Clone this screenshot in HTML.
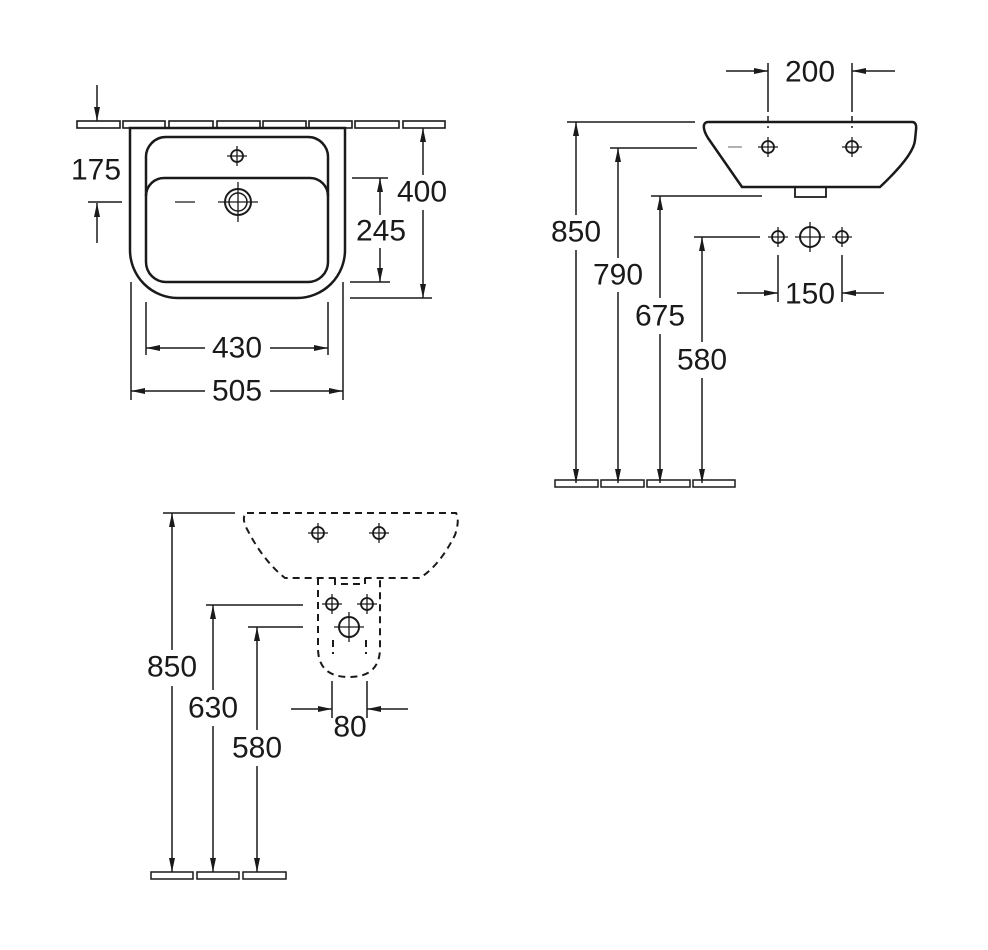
<!DOCTYPE html>
<html><head><meta charset="utf-8"><style>
html,body{margin:0;padding:0;background:#fff}
svg{display:block}
text{font-family:"Liberation Sans",sans-serif;font-size:30px;fill:#1a1a1a;text-anchor:middle;dominant-baseline:central}
</style></head><body>
<svg width="988" height="950" viewBox="0 0 988 950" xmlns="http://www.w3.org/2000/svg">
<defs>
<marker id="a" viewBox="0 0 14 6" refX="14" refY="3" markerWidth="14" markerHeight="6" markerUnits="userSpaceOnUse" orient="auto-start-reverse"><path d="M0,0 L14,3 L0,6 Z" fill="#1a1a1a"/></marker>
<g id="hs"><circle r="6" fill="none" stroke="#1a1a1a" stroke-width="1.8"/><path d="M-10,0H10M0,-10V10" stroke="#1a1a1a" stroke-width="1.3"/></g>
<g id="hl"><circle r="10" fill="none" stroke="#1a1a1a" stroke-width="2"/><path d="M-15,0H15M0,-15V15" stroke="#1a1a1a" stroke-width="1.3"/></g>
</defs>
<g stroke="#1a1a1a" fill="none">
<!-- top-left view -->
<g stroke-width="1.6">
<rect x="77" y="121" width="43" height="7"/><rect x="123" y="121" width="42" height="7"/><rect x="169" y="121" width="44" height="7"/><rect x="217" y="121" width="43" height="7"/><rect x="263" y="121" width="43" height="7"/><rect x="309" y="121" width="43" height="7"/><rect x="355" y="121" width="44" height="7"/><rect x="403" y="121" width="42" height="7"/>
</g>
<path d="M130,128V250A48,48 0 0 0 178,298H297A48,48 0 0 0 345,250V128Z" stroke-width="2.5" fill="#fff"/>
<path d="M146,158A20,20 0 0 1 166,137H308A20,20 0 0 1 328,158V262A20,20 0 0 1 308,282H166A20,20 0 0 1 146,262Z" stroke-width="2.5"/>
<path d="M146,196A18,18 0 0 1 164,178H310A18,18 0 0 1 328,196" stroke-width="2.5"/>
<use href="#hs" x="237" y="156"/>
<circle cx="238" cy="202" r="13" stroke-width="2"/><circle cx="238" cy="202" r="9" stroke-width="1.5"/>
<path d="M218,202H258M238,182V222M175,202H195" stroke-width="1.3"/>
<g stroke-width="1.5">
<path d="M97,85V121" marker-end="url(#a)"/><path d="M97,243V203" marker-end="url(#a)"/><path d="M88,202H122"/>
<path d="M352,178H388M350,282H390M350,298H432"/>
<path d="M380,215V178" marker-end="url(#a)"/><path d="M380,248V282" marker-end="url(#a)"/>
<path d="M423,175V128" marker-end="url(#a)"/><path d="M423,210V298" marker-end="url(#a)"/>
<path d="M146,302V355M328,302V355M131,282V400M343,282V400"/>
<path d="M205,348H146" marker-end="url(#a)"/><path d="M270,348H328" marker-end="url(#a)"/>
<path d="M205,391H131" marker-end="url(#a)"/><path d="M270,391H343" marker-end="url(#a)"/>
</g>
<!-- right view -->
<path d="M708,122H912Q917,122 916,130L915,140Q914,155 880,187H742L708,138Q703,130 704,125Q705,122 708,122Z" stroke-width="2.5"/>
<path d="M795,187V197H826V187" stroke-width="1.8"/>
<g stroke-width="1.5">
<path d="M567,122H695M610,148H697M651,196H762M694,237H760"/>
<path d="M576,215V122" marker-end="url(#a)"/><path d="M576,250V483" marker-end="url(#a)"/>
<path d="M618,258V148" marker-end="url(#a)"/><path d="M618,292V483" marker-end="url(#a)"/>
<path d="M660,298V196" marker-end="url(#a)"/><path d="M660,334V483" marker-end="url(#a)"/>
<path d="M702,342V237" marker-end="url(#a)"/><path d="M702,378V483" marker-end="url(#a)"/>
<rect x="555" y="480" width="43" height="7"/><rect x="601" y="480" width="43" height="7"/><rect x="647" y="480" width="43" height="7"/><rect x="693" y="480" width="42" height="7"/>
<path d="M768,63V112M852,63V112"/>
<path d="M768,116V128M852,116V128" stroke-dasharray="6,4"/>
<path d="M726,71H768" marker-end="url(#a)"/><path d="M895,71H852" marker-end="url(#a)"/>
<path d="M778,255V302M842,255V302"/>
<path d="M737,293H778" marker-end="url(#a)"/><path d="M884,293H842" marker-end="url(#a)"/>
<path d="M728,147H742" stroke="#999"/>
</g>
<use href="#hs" x="768" y="147"/><use href="#hs" x="852" y="147"/>
<use href="#hs" x="778" y="237"/><use href="#hl" x="810" y="237"/><use href="#hs" x="842" y="237"/>
<!-- bottom view -->
<g stroke-width="2" stroke-dasharray="7,5">
<path d="M247,513H456Q460,520 455,535Q440,565 420,578H285Q262,560 245,525Q242,515 247,513Z"/>
<path d="M318,578V648Q318,677 349,677Q380,677 380,648V578"/>
<path d="M335,578V584H365V578"/>
<path d="M333,640V654M366,640V654"/>
</g>
<use href="#hs" x="318" y="533"/><use href="#hs" x="379" y="533"/>
<use href="#hs" x="332" y="604"/><use href="#hs" x="367" y="604"/><use href="#hl" x="349" y="627"/>
<g stroke-width="1.5">
<path d="M163,513H235M206,605H303M248,627H303"/>
<path d="M172,650V513" marker-end="url(#a)"/><path d="M172,686V872" marker-end="url(#a)"/>
<path d="M213,690V605" marker-end="url(#a)"/><path d="M213,726V872" marker-end="url(#a)"/>
<path d="M257,730V627" marker-end="url(#a)"/><path d="M257,766V872" marker-end="url(#a)"/>
<rect x="151" y="872" width="42" height="7"/><rect x="197" y="872" width="42" height="7"/><rect x="243" y="872" width="43" height="7"/>
<path d="M332,681V718M367,681V718"/>
<path d="M291,709H332" marker-end="url(#a)"/><path d="M408,709H367" marker-end="url(#a)"/>
</g>
</g>
<text x="96" y="170">175</text>
<text x="381" y="231">245</text>
<text x="422" y="192">400</text>
<text x="237" y="348">430</text>
<text x="237" y="391">505</text>
<text x="810" y="72">200</text>
<text x="576" y="232">850</text>
<text x="618" y="275">790</text>
<text x="660" y="316">675</text>
<text x="702" y="360">580</text>
<text x="810" y="294">150</text>
<text x="172" y="667">850</text>
<text x="213" y="708">630</text>
<text x="257" y="748">580</text>
<text x="350" y="727">80</text>
</svg>
</body></html>
